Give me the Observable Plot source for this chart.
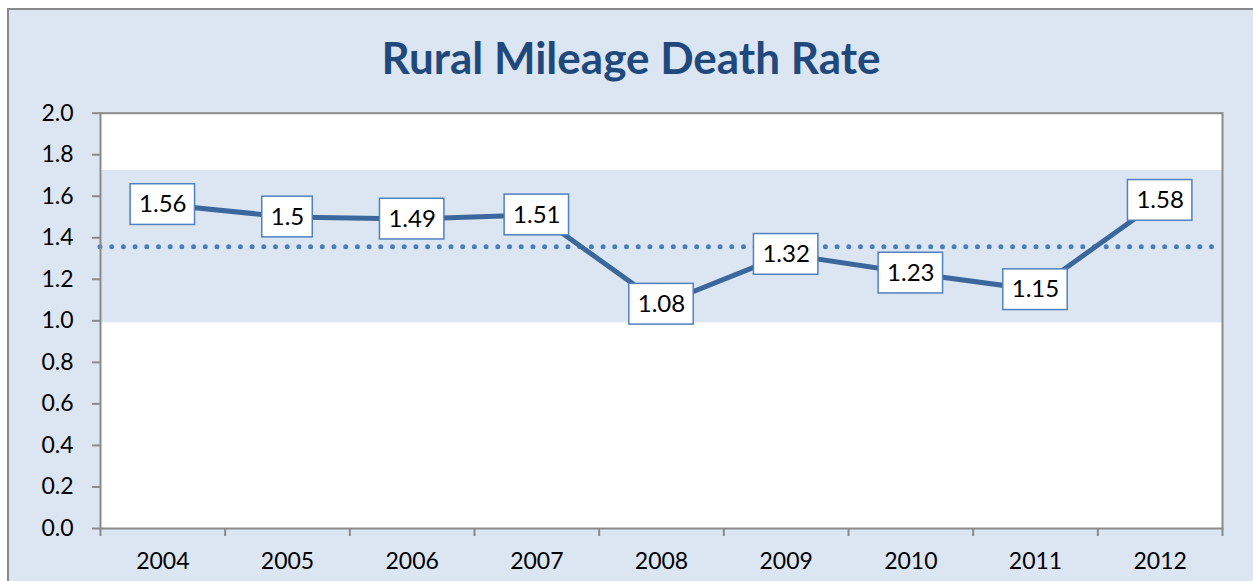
<!DOCTYPE html>
<html>
<head>
<meta charset="utf-8">
<script src="https://cdn.jsdelivr.net/npm/d3@7"></script>
<script src="https://cdn.jsdelivr.net/npm/@observablehq/plot@0.6"></script>
<style>
  html, body { margin: 0; padding: 0; background: #ffffff; overflow: hidden; width: 1253px; height: 581px; }
  #frame { position: absolute; left: 7px; top: 8px; width: 1262px; height: 592px; box-sizing: border-box;
           border: 2px solid #898989; background: #dce6f2; }
  #title { position: absolute; left: 0; top: 35px; width: 1262px; text-align: center;
           font-family: Lato, "Open Sans", sans-serif; font-weight: 700; font-size: 44px; line-height: 1;
           color: #1f497d; white-space: nowrap; }
  #chart { position: absolute; left: 0; top: 90px; }
</style>
</head>
<body>
<div id="frame"></div>
<div id="title">Rural Mileage Death Rate</div>
<div id="chart"></div>
<script>
const years = ["2004", "2005", "2006", "2007", "2008", "2009", "2010", "2011", "2012"];
const rates = [1.56, 1.5, 1.49, 1.51, 1.08, 1.32, 1.23, 1.15, 1.58];
const average = 1.357;
const bandLow = 0.99;
const bandHigh = 1.724;
const yTicks = [0, 0.2, 0.4, 0.6, 0.8, 1.0, 1.2, 1.4, 1.6, 1.8, 2.0];

const data = years.map((y, i) => ({pos: i + 0.5, year: y, rate: rates[i]}));
const band = [{x1: 0, x2: years.length, lo: bandLow, hi: bandHigh}];
const boundaries = d3.range(years.length + 1);
const centers = data.map(d => d.pos);

const W = 1253, H = 491;
const plot = Plot.plot({
  width: W,
  height: H,
  marginLeft: 100,
  marginRight: 31,
  marginTop: 22.7,
  marginBottom: 53,
  style: {background: "transparent", fontFamily: "Lato, 'Open Sans', sans-serif", fontSize: "23px", color: "black", overflow: "visible"},
  x: {type: "linear", domain: [0, years.length]},
  y: {domain: [0, 2]},
  marks: [
    Plot.frame({fill: "white", stroke: null}),
    Plot.rect(band, {x1: "x1", x2: "x2", y1: "lo", y2: "hi", fill: "#dce6f2"}),
    Plot.ruleY([average], {stroke: "#4a7ebb", strokeWidth: 5, strokeDasharray: "0 11.7", strokeLinecap: "round"}),
    Plot.line(data, {x: "pos", y: "rate", stroke: "#3b679c", strokeWidth: 5}),
    Plot.text(data, {x: "pos", y: "rate", text: d => String(d.rate), fontSize: 24, fill: "black", className: "vlabel"}),
    Plot.frame({stroke: "#8a8a8a", strokeWidth: 2}),
    Plot.axisY({ticks: yTicks, tickSize: 8, tickPadding: 19, tickFormat: d3.format(".1f"), stroke: "#8a8a8a", strokeWidth: 2, fill: "black", fontSize: 23, label: null}),
    Plot.axisX({ticks: boundaries, tickSize: 8, tickFormat: () => "", stroke: "#8a8a8a", strokeWidth: 2, label: null}),
    Plot.axisX({ticks: centers, tickSize: 0, tickPadding: 24, tickFormat: v => years[Math.floor(v)], fill: "black", fontSize: 23, label: null})
  ]
});
document.getElementById("chart").appendChild(plot);

// white boxes behind the value labels: centred on each point via the plot's scales, width from the rendered label
const ns = "http://www.w3.org/2000/svg";
const sx = plot.scale("x"), sy = plot.scale("y");
const texts = plot.querySelectorAll("g.vlabel text");
texts.forEach((t, i) => {
  const bb = t.getBBox();
  const cx = sx.apply(data[i].pos), cy = sy.apply(data[i].rate);
  const w = bb.width + 17, h = 40.7;
  const r = document.createElementNS(ns, "rect");
  r.setAttribute("x", cx - w / 2);
  r.setAttribute("width", w);
  r.setAttribute("y", cy - h / 2);
  r.setAttribute("height", h);
  r.setAttribute("fill", "white");
  r.setAttribute("stroke", "#4f81bd");
  r.setAttribute("stroke-width", 1.5);
  const g = t.parentNode;
  g.parentNode.insertBefore(r, g);
});
</script>
</body>
</html>
